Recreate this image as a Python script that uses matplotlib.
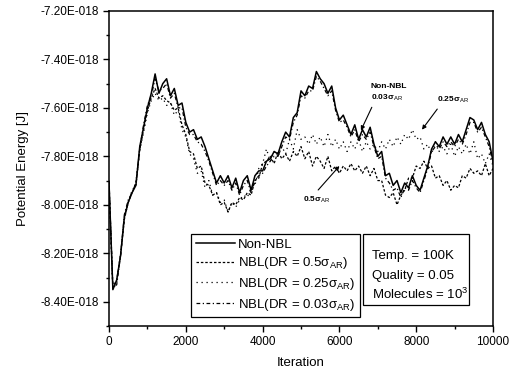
import numpy as np
from matplotlib import pyplot as plt
from matplotlib.patches import Rectangle
from matplotlib.ticker import FuncFormatter, MultipleLocator

plt.rcParams['font.family'] = ['Liberation Sans', 'DejaVu Sans']
plt.rcParams['mathtext.fontset'] = 'custom'
plt.rcParams['mathtext.rm'] = 'Liberation Sans'
plt.rcParams['mathtext.it'] = 'Liberation Sans:italic'

# iteration grid (every 100 iterations), energies in units of 1E-018 J
iterations = np.arange(0, 10001, 100)

non_nbl = [
    -7.91, -8.35, -8.31, -8.21, -8.05, -7.99, -7.95, -7.92, -7.76, -7.68,
    -7.60, -7.54, -7.46, -7.54, -7.50, -7.48, -7.55, -7.52, -7.59, -7.58,
    -7.66, -7.70, -7.69, -7.73, -7.72, -7.76, -7.81, -7.86, -7.91, -7.88,
    -7.91, -7.88, -7.93, -7.89, -7.95, -7.90, -7.88, -7.94, -7.88, -7.86,
    -7.86, -7.82, -7.81, -7.78, -7.79, -7.74, -7.70, -7.72, -7.64, -7.62,
    -7.53, -7.55, -7.51, -7.52, -7.45, -7.48, -7.50, -7.54, -7.51, -7.60,
    -7.65, -7.63, -7.67, -7.71, -7.67, -7.73, -7.69, -7.72, -7.68, -7.75,
    -7.80, -7.78, -7.88, -7.87, -7.92, -7.90, -7.95, -7.91, -7.93, -7.88,
    -7.92, -7.94, -7.89, -7.84, -7.77, -7.74, -7.76, -7.72, -7.75, -7.72,
    -7.75, -7.71, -7.74, -7.69, -7.64, -7.65, -7.69, -7.66, -7.71, -7.74,
    -7.82,
]

nbl_05 = [
    -7.92, -8.34, -8.31, -8.21, -8.06, -7.99, -7.95, -7.91, -7.77, -7.69,
    -7.61, -7.56, -7.52, -7.56, -7.55, -7.57, -7.58, -7.61, -7.60, -7.67,
    -7.71, -7.78, -7.79, -7.85, -7.84, -7.91, -7.92, -7.96, -7.95, -8.00,
    -7.99, -8.03, -7.99, -8.00, -7.97, -7.98, -7.95, -7.96, -7.90, -7.89,
    -7.83, -7.82, -7.80, -7.83, -7.78, -7.81, -7.79, -7.82, -7.78, -7.80,
    -7.76, -7.81, -7.78, -7.84, -7.80, -7.82, -7.85, -7.80, -7.86, -7.84,
    -7.87, -7.84, -7.86, -7.83, -7.86, -7.84, -7.87, -7.84, -7.88, -7.85,
    -7.90, -7.90, -7.96, -7.97, -7.95, -8.00, -7.96, -7.94, -7.89, -7.89,
    -7.84, -7.85, -7.82, -7.85, -7.84, -7.89, -7.88, -7.92, -7.90, -7.94,
    -7.92, -7.93, -7.88, -7.89, -7.85, -7.87, -7.86, -7.88, -7.83, -7.88,
    -7.85,
]

nbl_025 = [
    -7.91, -8.35, -8.32, -8.20, -8.05, -7.99, -7.94, -7.92, -7.78, -7.70,
    -7.62, -7.57, -7.54, -7.57, -7.56, -7.59, -7.58, -7.63, -7.61, -7.69,
    -7.72, -7.79, -7.81, -7.87, -7.86, -7.93, -7.90, -7.96, -7.95, -7.99,
    -7.98, -8.03, -7.99, -8.01, -7.98, -7.96, -7.97, -7.93, -7.92, -7.85,
    -7.83, -7.77, -7.82, -7.78, -7.80, -7.76, -7.79, -7.73, -7.77, -7.69,
    -7.73, -7.72, -7.75, -7.71, -7.75, -7.72, -7.76, -7.71, -7.76, -7.73,
    -7.77, -7.74, -7.78, -7.74, -7.77, -7.73, -7.78, -7.74, -7.77, -7.75,
    -7.78, -7.74, -7.77, -7.73, -7.76, -7.72, -7.75, -7.71, -7.73, -7.69,
    -7.73, -7.72, -7.77, -7.75, -7.79, -7.74, -7.78, -7.76, -7.79, -7.75,
    -7.80, -7.76, -7.79, -7.75, -7.79, -7.74, -7.81, -7.79, -7.83, -7.79,
    -7.84,
]

nbl_003 = [
    -7.90, -8.34, -8.33, -8.21, -8.04, -7.98, -7.95, -7.91, -7.77, -7.67,
    -7.59, -7.55, -7.48, -7.53, -7.52, -7.50, -7.56, -7.54, -7.60, -7.60,
    -7.68, -7.71, -7.71, -7.74, -7.75, -7.78, -7.82, -7.87, -7.92, -7.90,
    -7.92, -7.90, -7.94, -7.91, -7.96, -7.92, -7.90, -7.95, -7.90, -7.88,
    -7.87, -7.84, -7.82, -7.80, -7.80, -7.76, -7.72, -7.73, -7.66, -7.63,
    -7.55, -7.56, -7.53, -7.53, -7.47, -7.49, -7.52, -7.55, -7.53, -7.61,
    -7.66, -7.65, -7.68, -7.72, -7.69, -7.74, -7.71, -7.73, -7.70, -7.76,
    -7.81, -7.80, -7.89, -7.91, -7.94, -7.93, -7.97, -7.93, -7.94, -7.90,
    -7.93, -7.95, -7.90, -7.85, -7.78, -7.76, -7.77, -7.74, -7.76, -7.74,
    -7.76, -7.73, -7.75, -7.71, -7.66, -7.66, -7.70, -7.68, -7.72, -7.76,
    -7.83,
]

fig = plt.figure(figsize=(5.15, 3.76), dpi=100)
ax = fig.add_axes([0.2117, 0.133, 0.7456, 0.838])

ax.plot(iterations, non_nbl, color='black', lw=1.1, ls='-', label='Non-NBL')
ax.plot(iterations, nbl_05, color='black', lw=0.9, ls=(0, (2, 1.5)),
        label='NBL(DR = 0.5σ$_{\\rm AR}$)')
ax.plot(iterations, nbl_025, color='black', lw=0.9, ls=(0, (1, 3)),
        label='NBL(DR = 0.25σ$_{\\rm AR}$)')
ax.plot(iterations, nbl_003, color='black', lw=0.9, ls=(0, (3, 2, 1, 2)),
        label='NBL(DR = 0.03σ$_{\\rm AR}$)')

ax.set_xlim(0, 10000)
ax.set_ylim(-8.5, -7.2)
ax.xaxis.set_major_locator(MultipleLocator(2000))
ax.xaxis.set_minor_locator(MultipleLocator(1000))
ax.yaxis.set_major_locator(MultipleLocator(0.2))
ax.yaxis.set_minor_locator(MultipleLocator(0.1))
ax.yaxis.set_major_formatter(FuncFormatter(lambda v, p: f'{v:.2f}E-018'))
ax.tick_params(which='both', direction='out', labelsize=8.5, width=1.0)
ax.tick_params(which='major', length=4)
ax.tick_params(which='minor', length=2.5)
for s in ax.spines.values():
    s.set_linewidth(1.1)

ax.set_xlabel('Iteration', fontsize=9.5, labelpad=6)
ax.set_ylabel('Potential Energy [J]', fontsize=9.5, labelpad=8)

leg = ax.legend(loc='upper left', bbox_to_anchor=(0.2135, 0.292), borderaxespad=0,
                fontsize=9.5, fancybox=False, edgecolor='black', framealpha=1,
                handlelength=3.0, handletextpad=0.2, labelspacing=0.35,
                borderpad=0.35)
leg.get_frame().set_linewidth(0.9)

ax.add_patch(Rectangle((0.661, 0.067), 0.276, 0.225, transform=ax.transAxes,
                       facecolor='white', edgecolor='black', lw=0.9, zorder=5))
ax.text(0.685, 0.222, 'Temp. = 100K', transform=ax.transAxes, fontsize=9.5,
        va='center', zorder=6)
ax.text(0.685, 0.160, 'Quality = 0.05', transform=ax.transAxes, fontsize=9.5,
        va='center', zorder=6)
ax.text(0.685, 0.100, 'Molecules = 10$^3$', transform=ax.transAxes, fontsize=9.5,
        va='center', zorder=6)

arrow = dict(arrowstyle='-|>', color='black', lw=0.8, mutation_scale=6)
ax.annotate('Non-NBL', xy=(6620, -7.683), xytext=(6810, -7.51), fontsize=6,
            fontweight='bold', ha='left', va='center')
ax.annotate('0.03σ$_{\\rm AR}$', xy=(6560, -7.693), xytext=(6810, -7.56),
            fontsize=6, fontweight='bold', ha='left', va='center',
            arrowprops=dict(arrow, shrinkA=1, shrinkB=0,
                            relpos=(0.1, 0.0)))
ax.annotate('0.25σ$_{\\rm AR}$', xy=(8150, -7.69), xytext=(8540, -7.568),
            fontsize=6, fontweight='bold', ha='left', va='center',
            arrowprops=dict(arrow, shrinkA=1, shrinkB=0, relpos=(0.1, 0.0)))
ax.annotate('0.5σ$_{\\rm AR}$', xy=(6000, -7.84), xytext=(5050, -7.98),
            fontsize=6, fontweight='bold', ha='left', va='center',
            arrowprops=dict(arrow, shrinkA=2, shrinkB=0, relpos=(0.4, 1.0)))

plt.savefig('out.png', dpi=100)
